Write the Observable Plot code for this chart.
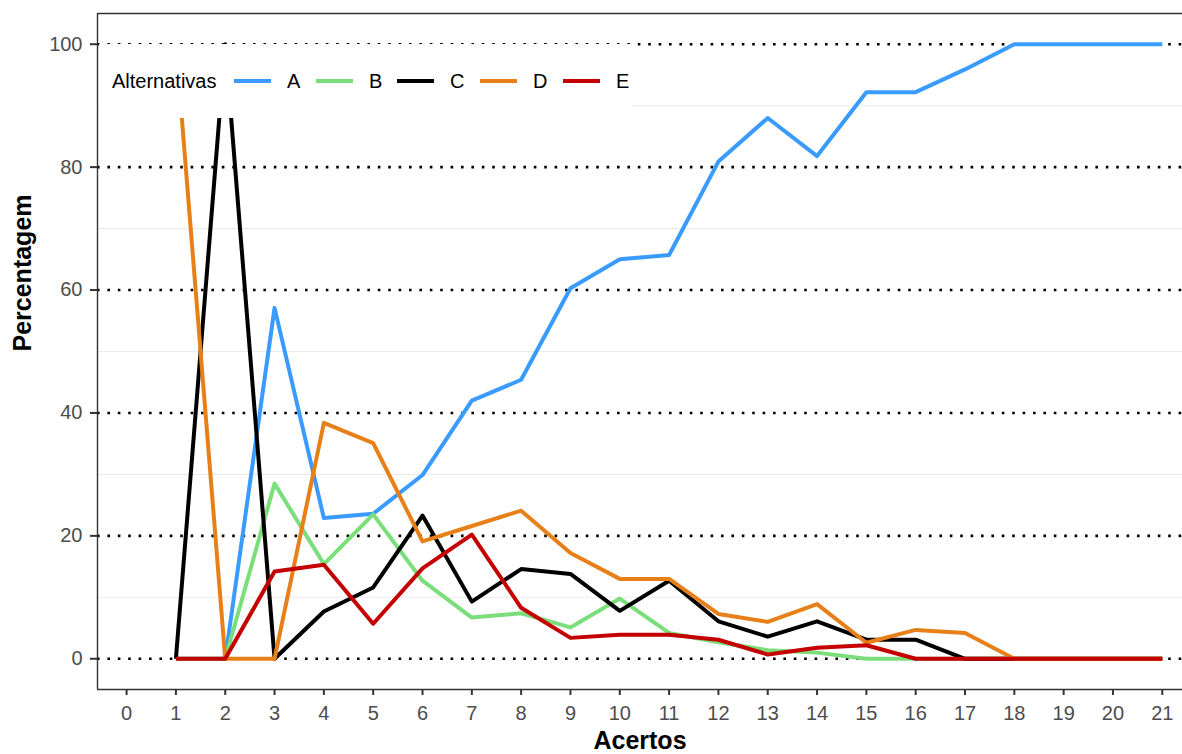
<!DOCTYPE html>
<html>
<head>
<meta charset="utf-8">
<script src="https://cdn.jsdelivr.net/npm/d3@7"></script>
<script src="https://cdn.jsdelivr.net/npm/@observablehq/plot@0.6"></script>
<style>
  html, body { margin: 0; padding: 0; background: #fff; }
  #wrap { position: relative; width: 1182px; height: 754px; font-family: "Liberation Sans", Arial, sans-serif; }
  #legend { position: absolute; left: 99px; top: 44px; display: block; }
</style>
</head>
<body>
<div id="wrap"></div>
<script>
// ---- data ----
const acertos = [1, 2, 3, 4, 5, 6, 7, 8, 9, 10, 11, 12, 13, 14, 15, 16, 17, 18, 19, 20, 21];
const serieA = [0, 0, 57.1, 22.9, 23.6, 29.9, 42.0, 45.4, 60.3, 65.0, 65.7, 80.9, 88.0, 81.8, 92.2, 92.2, 95.9, 100, 100, 100, 100];
const serieB = [0, 0, 28.5, 15.4, 23.5, 12.7, 6.7, 7.4, 5.1, 9.8, 4.2, 2.7, 1.4, 1.0, 0, 0, 0, 0, 0, 0, 0];
const serieC = [0, 100, 0, 7.7, 11.6, 23.3, 9.3, 14.6, 13.8, 7.8, 12.7, 6.1, 3.6, 6.1, 3.1, 3.1, 0, 0, 0, 0, 0];
const serieD = [100, 0, 0, 38.4, 35.1, 19.1, 21.6, 24.1, 17.2, 13.0, 13.0, 7.3, 6.0, 8.9, 2.6, 4.7, 4.2, 0, 0, 0, 0];
const serieE = [0, 0, 14.2, 15.3, 5.7, 14.7, 20.2, 8.3, 3.4, 3.9, 3.9, 3.1, 0.7, 1.8, 2.2, 0, 0, 0, 0, 0, 0];
const alternativas = ["A", "B", "C", "D", "E"];
const cores = ["#3A9BFF", "#7ADF7A", "#000000", "#E8801A", "#C40000"];
const xTicks = [0, 1, 2, 3, 4, 5, 6, 7, 8, 9, 10, 11, 12, 13, 14, 15, 16, 17, 18, 19, 20, 21];
const yTicksMajor = [0, 20, 40, 60, 80, 100];
const yTicksMinor = [10, 30, 50, 70, 90];

const series = [serieA, serieB, serieC, serieD, serieE];
const rows = [];
alternativas.forEach((alt, i) => {
  acertos.forEach((a, j) => rows.push({alt, acertos: a, pct: series[i][j]}));
});

const xDomain = [-0.59, 21.41];
const yDomain = [-5, 105];

const chart = Plot.plot({
  width: 1182,
  height: 754,
  marginLeft: 97,
  marginRight: 0,
  marginTop: 13,
  marginBottom: 65,
  style: {fontFamily: "'Liberation Sans', Arial, sans-serif", background: "#fff"},
  x: {domain: xDomain, label: null},
  y: {domain: yDomain, label: null},
  color: {domain: alternativas, range: cores},
  marks: [
    Plot.ruleY(yTicksMinor, {stroke: "#EBEBEB", strokeWidth: 1.1}),
    Plot.ruleY(yTicksMajor, {stroke: "#000", strokeWidth: 2.6, strokeDasharray: "2.6 7.8"}),
    Plot.lineY(rows, {x: "acertos", y: "pct", z: "alt", stroke: "alt", strokeWidth: 4, strokeLinecap: "butt", strokeLinejoin: "round"}),
    Plot.ruleX([xDomain[0]], {stroke: "#333", strokeWidth: 1.4}),
    Plot.ruleY(yDomain, {stroke: "#333", strokeWidth: 1.4}),
    Plot.axisY({ticks: yTicksMajor, tickSize: 7, tickPadding: 8, fontSize: 20, fill: "#4D4D4D", stroke: "#333", strokeWidth: 2, label: null}),
    Plot.axisX({ticks: xTicks, tickSize: 6, tickPadding: 10, fontSize: 20, fill: "#4D4D4D", stroke: "#333", strokeWidth: 2, label: null, tickFormat: d => String(d)}),
    Plot.text(["Acertos"], {text: d => d, frameAnchor: "bottom", lineAnchor: "bottom", dy: 59, fontSize: 25, fontWeight: "bold", fill: "#000"}),
    Plot.text(["Percentagem"], {text: d => d, frameAnchor: "left", lineAnchor: "middle", rotate: -90, dx: -75, fontSize: 25, fontWeight: "bold", fill: "#000"})
  ]
});
const wrap = document.getElementById("wrap");
wrap.appendChild(chart);

// ---- legend (inside panel, top-left, white box) ----
const ox = 99, oy = 44, lw = 632 - ox, lh = 118 - oy;
const leg = d3.create("svg").attr("id", "legend").attr("width", lw).attr("height", lh)
  .style("font-family", "'Liberation Sans', Arial, sans-serif");
leg.append("rect").attr("width", lw).attr("height", lh).attr("fill", "#fff");
const cy = 81 - oy;
leg.append("text").attr("x", 112 - ox).attr("y", cy + 7).attr("font-size", 20).attr("fill", "#000").text("Alternativas");
const keyX = [234, 316, 397, 480, 563];
const labX = [287, 369, 450, 533, 616];
alternativas.forEach((alt, i) => {
  leg.append("line").attr("x1", keyX[i] - ox).attr("x2", keyX[i] + 37 - ox).attr("y1", cy).attr("y2", cy)
    .attr("stroke", cores[i]).attr("stroke-width", 4);
  leg.append("text").attr("x", labX[i] - ox).attr("y", cy + 7).attr("font-size", 20).attr("fill", "#000").text(alt);
});
wrap.appendChild(leg.node());
</script>
</body>
</html>
